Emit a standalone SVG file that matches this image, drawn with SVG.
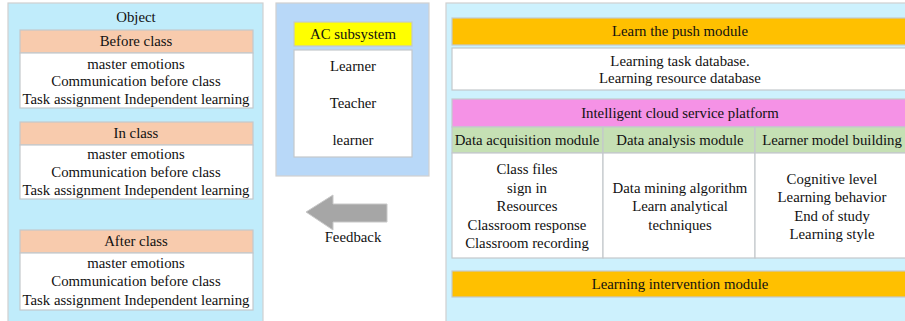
<svg xmlns="http://www.w3.org/2000/svg" width="905" height="321" viewBox="0 0 905 321" font-family="'Liberation Serif', 'Times New Roman', 'DejaVu Serif', serif">
<defs>
<style>
text{font-family:'Liberation Serif','Times New Roman','DejaVu Serif',serif;font-size:14.8px;fill:#111;text-anchor:middle}
.panel{stroke:#d0d0d0;stroke-width:1.2}
.box{stroke:#c4c8cc;stroke-width:1.2}
.peach{fill:#f8cbad}
.white{fill:#ffffff}
.orange{fill:#ffc000}
.green{fill:#c5e0b4}
</style>
</defs>
<rect width="905" height="321" fill="#ffffff"/>

<g id="object-panel">
<rect class="panel" x="8" y="3" width="255" height="330" fill="#c0ecfb"/>
<text x="136" y="22">Object</text>
</g>
<g id="before-class">
<rect class="box peach" x="20" y="30" width="233" height="23"/>
<text x="136" y="46">Before class</text>
<rect class="box white" x="20" y="53" width="233" height="55"/>
<text x="136" y="69">master emotions</text>
<text x="136" y="86">Communication before class</text>
<text x="136" y="104">Task assignment Independent learning</text>
</g>
<g id="in-class">
<rect class="box peach" x="20" y="122" width="233" height="23"/>
<text x="136" y="138">In class</text>
<rect class="box white" x="20" y="145" width="233" height="54"/>
<text x="136" y="159">master emotions</text>
<text x="136" y="177">Communication before class</text>
<text x="136" y="195">Task assignment Independent learning</text>
</g>
<g id="after-class">
<rect class="box peach" x="20" y="230" width="233" height="23"/>
<text x="136" y="246">After class</text>
<rect class="box white" x="20" y="253" width="233" height="57"/>
<text x="136" y="268">master emotions</text>
<text x="136" y="286">Communication before class</text>
<text x="136" y="305">Task assignment Independent learning</text>
</g>

<g id="ac-subsystem">
<rect class="panel" x="276" y="3" width="153" height="173" fill="#b8d8f8"/>
<rect class="box" x="294" y="22" width="118" height="24" fill="#ffff00"/>
<text x="353" y="39">AC subsystem</text>
<rect class="box white" x="294" y="50" width="118" height="107"/>
<text x="353" y="71">Learner</text>
<text x="353" y="108">Teacher</text>
<text x="353" y="145">learner</text>
</g>

<g id="connectors">
<polygon points="306,212 333,195 333,204 387,204 387,222 333,222 333,230" fill="#a6a6a6" stroke="#c8c8c8" stroke-width="1"/>
<text x="353" y="242">Feedback</text>
</g>

<g id="platform-panel">
<rect class="panel" x="446" y="3" width="470" height="330" fill="#cdf1fd"/>
</g>
<g id="push-module">
<rect class="box orange" x="452" y="18" width="460" height="27"/>
<text x="680" y="36">Learn the push module</text>
<rect class="box white" x="452" y="48" width="460" height="42"/>
<text x="680" y="66">Learning task database.</text>
<text x="680" y="83">Learning resource database</text>
</g>
<g id="cloud-platform">
<rect class="box" x="452" y="99" width="460" height="28" fill="#f592e6"/>
<text x="680" y="118">Intelligent cloud service platform</text>
</g>
<g id="data-acquisition">
<rect class="box green" x="452" y="127" width="151" height="26"/>
<text x="527" y="145">Data acquisition module</text>
<rect class="box white" x="452" y="153" width="151" height="105"/>
<text x="527" y="174">Class files</text>
<text x="527" y="193">sign in</text>
<text x="527" y="211">Resources</text>
<text x="527" y="230">Classroom response</text>
<text x="527" y="248">Classroom recording</text>
</g>
<g id="data-analysis">
<rect class="box green" x="603" y="127" width="152" height="26"/>
<text x="680" y="145">Data analysis module</text>
<rect class="box white" x="603" y="153" width="152" height="105"/>
<text x="680" y="193">Data mining algorithm</text>
<text x="680" y="211">Learn analytical</text>
<text x="680" y="230">techniques</text>
</g>
<g id="learner-model">
<rect class="box green" x="755" y="127" width="160" height="26"/>
<text x="832" y="145">Learner model building</text>
<rect class="box white" x="755" y="153" width="160" height="105"/>
<text x="832" y="184">Cognitive level</text>
<text x="832" y="202">Learning behavior</text>
<text x="832" y="221">End of study</text>
<text x="832" y="239">Learning style</text>
</g>
<g id="intervention-module">
<rect class="box orange" x="452" y="271" width="460" height="26"/>
<text x="680" y="289">Learning intervention module</text>
</g>
</svg>
